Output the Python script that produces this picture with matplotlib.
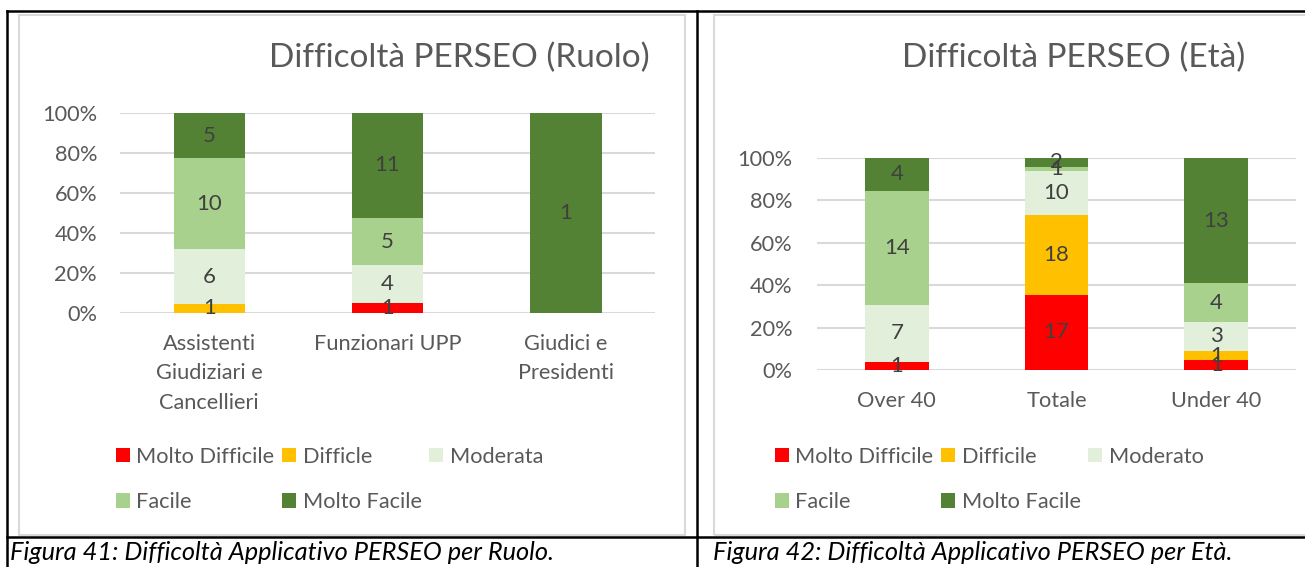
import numpy as np
import matplotlib
matplotlib.use("Agg")
import matplotlib.pyplot as plt
from matplotlib.lines import Line2D
from matplotlib.patches import Rectangle
from matplotlib.ticker import PercentFormatter

plt.rcParams['font.family'] = ['Lato', 'DejaVu Sans']

# livelli di difficoltà e colori
livelli_ruolo = ["Molto Difficile", "Difficle", "Moderata", "Facile", "Molto Facile"]
livelli_eta = ["Molto Difficile", "Difficile", "Moderato", "Facile", "Molto Facile"]
colori = ["#FF0000", "#FFC000", "#E2EFDA", "#A9D18E", "#548235"]

# grafico 1: per ruolo
ruoli = ["Assistenti\nGiudiziari e\nCancellieri", "Funzionari UPP", "Giudici e\nPresidenti"]
molto_difficile_r = [0, 1, 0]
difficile_r = [1, 0, 0]
moderata_r = [6, 4, 0]
facile_r = [10, 5, 0]
molto_facile_r = [5, 11, 1]

# grafico 2: per età
eta = ["Over 40", "Totale", "Under 40"]
molto_difficile_e = [1, 17, 1]
difficile_e = [0, 18, 1]
moderato_e = [7, 10, 3]
facile_e = [14, 1, 4]
molto_facile_e = [4, 2, 13]

W, H = 1305, 567
TXT = "#595959"
LBL = "#404040"
FS = 15.7


def stacked(ax, cats, series, labels, title_x, title, ypad):
    counts = np.array(series, dtype=float)
    tot = counts.sum(axis=0)
    perc = counts / tot
    x = np.arange(len(cats))
    bottom = np.zeros(len(cats))
    handles = []
    for i, row in enumerate(perc):
        b = ax.bar(x, row, 0.4, bottom=bottom, color=colori[i], label=labels[i], zorder=3)
        handles.append(b)
        for j in range(len(cats)):
            if counts[i, j] > 0:
                ax.text(x[j], bottom[j] + row[j] / 2, f"{int(counts[i, j])}",
                        ha="center", va="center", fontsize=16, color=LBL, zorder=4)
        bottom += row
    ax.set_xlim(-0.5, len(cats) - 0.5)
    ax.set_ylim(0, 1)
    ax.set_yticks(np.arange(0, 1.01, 0.2))
    ax.yaxis.set_major_formatter(PercentFormatter(1.0, decimals=0))
    ax.set_xticks(x)
    ax.set_xticklabels(cats, linespacing=1.6)
    ax.tick_params(length=0, labelsize=FS, colors=TXT)
    ax.tick_params(axis="x", pad=15)
    ax.tick_params(axis="y", pad=ypad)
    for s in ax.spines.values():
        s.set_visible(False)
    ax.grid(axis="y", color="#D9D9D9", lw=1.5, zorder=0)
    ax.set_axisbelow(True)
    fig.text(title_x / W, 1 - 58 / H, title, ha="right", va="center",
             fontsize=24, color=TXT)
    # legenda in ordine per righe
    order = [0, 3, 1, 4, 2]
    return [handles[k] for k in order], [labels[k] for k in order]


def legenda(h, l, x0):
    fig.legend(h, l, ncol=3, loc="upper left", bbox_to_anchor=(x0 / W, 1 - 436 / H),
               frameon=False, fontsize=FS, labelcolor=TXT, borderpad=0,
               handlelength=0.64, handleheight=0.64, handletextpad=0.3,
               columnspacing=0.35, labelspacing=1.15)


fig = plt.figure(figsize=(W / 100, H / 100), dpi=100)

# cornici grigie dei grafici
fig.add_artist(Rectangle((19 / W, 1 - 535 / H), (685 - 19) / W, (535 - 15) / H,
                         transform=fig.transFigure, fill=False, ec="#D9D9D9", lw=1.5))
fig.add_artist(Rectangle((714 / W, 1 - 535 / H), (1310 - 714) / W, (535 - 15) / H,
                         transform=fig.transFigure, fill=False, ec="#D9D9D9", lw=1.5))

ax1 = fig.add_axes([120 / W, 1 - 313 / H, 535 / W, 200 / H])
h1, l1 = stacked(ax1, ruoli, [molto_difficile_r, difficile_r, moderata_r, facile_r, molto_facile_r],
                 livelli_ruolo, 650, "Difficoltà PERSEO (Ruolo)", 16.5)
legenda(h1, l1, 105)

ax2 = fig.add_axes([817 / W, 1 - 370 / H, 479 / W, 212 / H])
h2, l2 = stacked(ax2, eta, [molto_difficile_e, difficile_e, moderato_e, facile_e, molto_facile_e],
                 livelli_eta, 1245, "Difficoltà PERSEO (Età)", 17.5)
legenda(h2, l2, 764)

# linee della tabella
for xs, ys in [((7, 1305), (11, 11)), ((7, 1305), (537, 537)), ((7, 7), (11, 567)),
               ((697, 697), (11, 567))]:
    fig.add_artist(Line2D([xs[0] / W, xs[1] / W], [1 - ys[0] / H, 1 - ys[1] / H],
                          transform=fig.transFigure, color="black", lw=1.8))

# didascalie
fig.text(10 / W, 1 - 552 / H, "Figura 41: Difficoltà Applicativo PERSEO per Ruolo.",
         style="italic", fontsize=18.3, va="center", ha="left", color="black")
fig.text(713 / W, 1 - 552 / H, "Figura 42: Difficoltà Applicativo PERSEO per Età.",
         style="italic", fontsize=18.3, va="center", ha="left", color="black")

fig.savefig("out.png", dpi=100)
